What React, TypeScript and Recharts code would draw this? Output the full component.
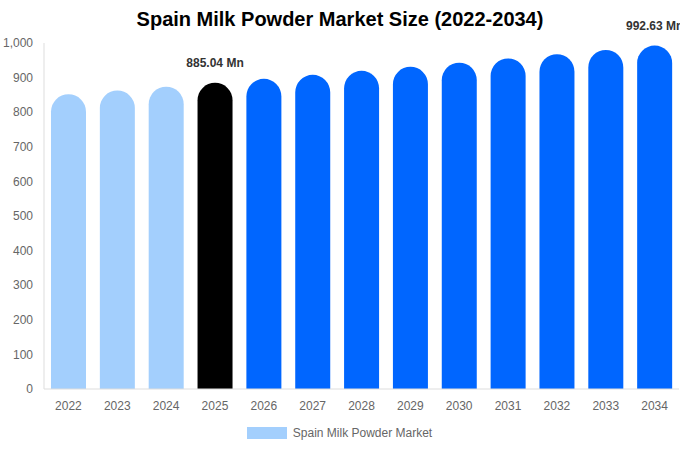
import React from 'react';
import { BarChart, Bar, XAxis, YAxis, Cell, LabelList, Legend } from 'recharts';

const years = ['2022', '2023', '2024', '2025', '2026', '2027', '2028', '2029', '2030', '2031', '2032', '2033', '2034'];
const sizes = [851.8, 862.7, 873.8, 885.04, 896.4, 907.9, 919.5, 931.3, 943.2, 955.3, 967.6, 980.0, 992.63];
const labelled = ['2025', '2034'];
const yTicks = [0, 100, 200, 300, 400, 500, 600, 700, 800, 900, 1000];

const HIST = '#a3cffd';
const CURRENT = '#000000';
const FORECAST = '#0066ff';
const FONT = '"Liberation Sans", Arial, sans-serif';

const data = years.map((y, i) => ({ year: y, value: sizes[i] }));

function barColor(year: string): string {
  if (year < '2025') return HIST;
  if (year === '2025') return CURRENT;
  return FORECAST;
}

const ValueLabel = (props: any) => {
  const { x, y, width, index } = props;
  const row = data[index];
  if (!row || !labelled.includes(row.year)) return null;
  return (
    <text
      x={x + width / 2}
      y={y - 16}
      textAnchor="middle"
      fontSize={12}
      fontWeight="bold"
      fill="#333"
      fontFamily={FONT}
    >
      {row.value.toFixed(2)} Mn
    </text>
  );
};

const LegendBox = () => (
  <div style={{ display: 'flex', justifyContent: 'center', alignItems: 'center', paddingTop: 7, fontFamily: FONT, fontSize: 12, color: '#666' }}>
    <span style={{ display: 'inline-block', width: 40, height: 12, background: HIST, marginRight: 6 }} />
    Spain Milk Powder Market
  </div>
);

export default function App() {
  return (
    <div style={{ position: 'absolute', left: 0, top: 0, width: 680, height: 450, background: '#fff', fontFamily: FONT }}>
      <div style={{ position: 'absolute', top: 8, width: 680, textAlign: 'center', fontSize: 20, fontWeight: 'bold', color: '#000' }}>
        Spain Milk Powder Market Size (2022-2034)
      </div>
      <BarChart width={680} height={450} data={data} margin={{ top: 43, right: 1, left: 0, bottom: 0 }}>
        <XAxis
          dataKey="year"
          tickLine={false}
          axisLine={{ stroke: '#ddd' }}
          tick={{ fontSize: 12, fill: '#666', fontFamily: FONT }}
          tickMargin={6}
          height={30}
        />
        <YAxis
          domain={[0, 1000]}
          ticks={yTicks}
          width={44}
          tickLine={false}
          axisLine={{ stroke: '#ddd' }}
          tick={{ fontSize: 12, fill: '#666', fontFamily: FONT }}
          tickMargin={5}
          tickFormatter={(v: number) => v.toLocaleString('en-US')}
        />
        <Legend verticalAlign="bottom" height={31} content={<LegendBox />} />
        <Bar dataKey="value" fill={HIST} barSize={35} radius={[18, 18, 0, 0]} isAnimationActive={false}>
          {data.map((d) => (
            <Cell key={d.year} fill={barColor(d.year)} />
          ))}
          <LabelList dataKey="value" content={<ValueLabel />} />
        </Bar>
      </BarChart>
    </div>
  );
}
